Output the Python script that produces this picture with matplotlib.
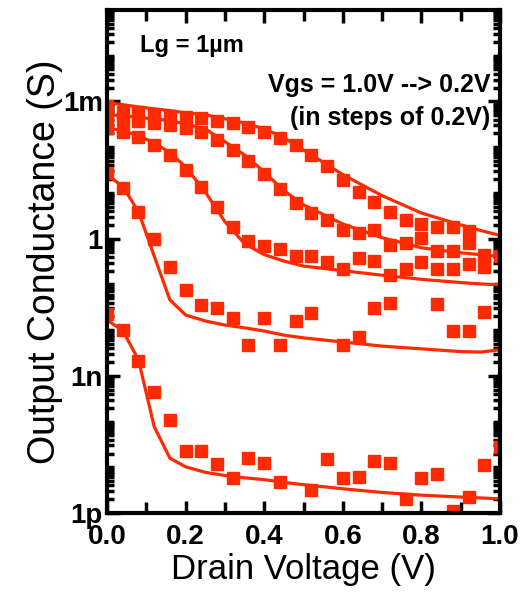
import numpy as np
import matplotlib
matplotlib.use("Agg")
import matplotlib.pyplot as plt
from matplotlib.ticker import FixedLocator, LogLocator, NullFormatter, MultipleLocator

# drain voltage of the measured points and of the model curves (V)
vd_meas = [0.0, 0.04, 0.08, 0.12, 0.16, 0.20, 0.24, 0.28, 0.32, 0.36, 0.40, 0.44, 0.48,
           0.52, 0.56, 0.60, 0.64, 0.68, 0.72, 0.76, 0.80, 0.84, 0.88, 0.92, 0.96, 1.0]
vd_model = [0.0, 0.04, 0.08, 0.12, 0.16, 0.20, 0.25, 0.30, 0.35, 0.40, 0.45, 0.50,
            0.60, 0.70, 0.80, 0.90, 0.95, 1.0]

# log10 of output conductance (S)
nan = np.nan
meas_10 = [-3.09, -3.22, -3.24, -3.29, -3.31, -3.33, -3.36, -3.42, -3.47, -3.56, -3.66, -3.80, -3.95,
           -4.17, -4.42, -4.71, -4.97, -5.20, -5.41, -5.59, -5.68, -5.74, -5.74, -5.84, nan, nan]
meas_08 = [-3.33, -3.38, -3.42, -3.47, -3.51, -3.58, -3.66, -3.84, -4.06, -4.31, -4.58, -4.92, -5.22,
           -5.44, -5.59, -5.81, -5.88, -5.81, -6.14, -6.10, -5.99, -6.26, -6.26, -6.10, -6.35, -6.39]
meas_06 = [-3.58, -3.66, -3.77, -3.95, -4.17, -4.49, -4.86, -5.30, -5.74, -6.05, -6.16, -6.23, -6.38,
           -6.38, -6.52, -6.67, -6.43, -6.48, -6.79, -6.67, -6.52, -6.67, -6.67, -6.55, -6.61, nan]
meas_04 = [-4.57, -4.90, -5.41, -6.00, -6.61, -7.12, -7.46, -7.51, -7.73, -8.32, -7.73, -8.32, -7.79,
           -7.63, nan, -8.32, -8.16, -7.52, -7.40, nan, nan, -7.43, -8.03, -8.03, -7.60, nan]
meas_02 = [-7.65, -8.00, -8.67, -9.35, -9.97, -10.64, -10.64, -10.93, -11.23, -10.80, -10.91, -11.32, nan,
           -11.50, -10.82, -11.23, -11.21, -10.86, -10.90, -11.69, -11.23, -11.15, -11.95, -11.64, -10.96, -10.55]

model_10 = [-3.03, -3.07, -3.12, -3.16, -3.20, -3.25, -3.29, -3.38, -3.47, -3.60, -3.79, -4.06,
            -4.60, -5.06, -5.44, -5.70, -5.82, -5.93]
model_08 = [-3.29, -3.31, -3.35, -3.38, -3.42, -3.49, -3.60, -3.88, -4.17, -4.54, -4.95, -5.26,
            -5.68, -5.98, -6.20, -6.31, -6.35, -6.39]
model_06 = [-3.58, -3.64, -3.75, -3.90, -4.12, -4.43, -4.98, -5.63, -6.11, -6.35, -6.49, -6.60,
            -6.70, -6.80, -6.89, -6.96, -6.99, -7.01]
model_04 = [-4.60, -4.86, -5.41, -6.38, -7.34, -7.67, -7.80, -7.89, -7.95, -8.02, -8.11, -8.17,
            -8.26, -8.35, -8.41, -8.47, -8.48, -8.43]
model_02 = [-7.78, -8.01, -8.65, -10.11, -10.80, -10.99, -11.11, -11.18, -11.23, -11.27, -11.33, -11.38,
            -11.47, -11.55, -11.61, -11.65, -11.67, -11.69]

y_ticks = [1e-12, 1e-9, 1e-6, 1e-3]
y_tick_labels = ["1p", "1n", "1", "1m"]
x_ticks = [0.0, 0.2, 0.4, 0.6, 0.8, 1.0]

red = "#ff2a00"
font = "Liberation Sans"
bold = dict(family=font, weight="bold")

fig = plt.figure(figsize=(5.29, 6.02), dpi=100)
ax = fig.add_axes([0.2023, 0.1478, 0.7429, 0.8356])

for model in [model_10, model_08, model_06, model_04, model_02]:
    ax.plot(vd_model, np.power(10.0, model), color=red, lw=2.3, zorder=2)
for meas in [meas_10, meas_08, meas_06, meas_04, meas_02]:
    ax.plot(vd_meas, np.power(10.0, meas), ls="none", marker="s", ms=8.8,
            color=red, mec=red, zorder=3)

ax.set_yscale("log")
ax.set_xlim(0.0, 1.0)
ax.set_ylim(1e-12, 1e-1)

ax.yaxis.set_major_locator(FixedLocator(y_ticks))
ax.set_yticklabels(y_tick_labels, fontsize=20, **bold)
ax.yaxis.set_minor_locator(LogLocator(base=10, subs=np.arange(1, 10), numticks=30))
ax.yaxis.set_minor_formatter(NullFormatter())

ax.set_xticks(x_ticks)
ax.set_xticklabels(["%.1f" % v for v in x_ticks], fontsize=20, **bold)
ax.xaxis.set_minor_locator(MultipleLocator(0.1))

ax.tick_params(which="both", direction="in", top=True, right=True, width=2.5)
ax.tick_params(which="major", length=9)
ax.tick_params(which="minor", length=5)
ax.tick_params(axis="x", which="minor", length=8)
ax.tick_params(axis="x", which="major", pad=8)
ax.tick_params(axis="y", which="major", pad=3)
for s in ax.spines.values():
    s.set_linewidth(3)
    s.set_zorder(4)

ax.set_xlabel("Drain Voltage (V)", fontsize=25, family=font, labelpad=2)
ax.set_ylabel("Output Conductance (S)", fontsize=27, family=font, labelpad=0)

ax.text(0.084, 0.93, "Lg = 1\u00b5m", transform=ax.transAxes, fontsize=17,
        va="center", ha="left", **bold)
ax.text(0.975, 0.851, "Vgs = 1.0V --> 0.2V", transform=ax.transAxes, fontsize=18,
        va="center", ha="right", **bold)
ax.text(0.975, 0.785, "(in steps of 0.2V)", transform=ax.transAxes, fontsize=18,
        va="center", ha="right", **bold)

fig.savefig("out.png", dpi=100)
